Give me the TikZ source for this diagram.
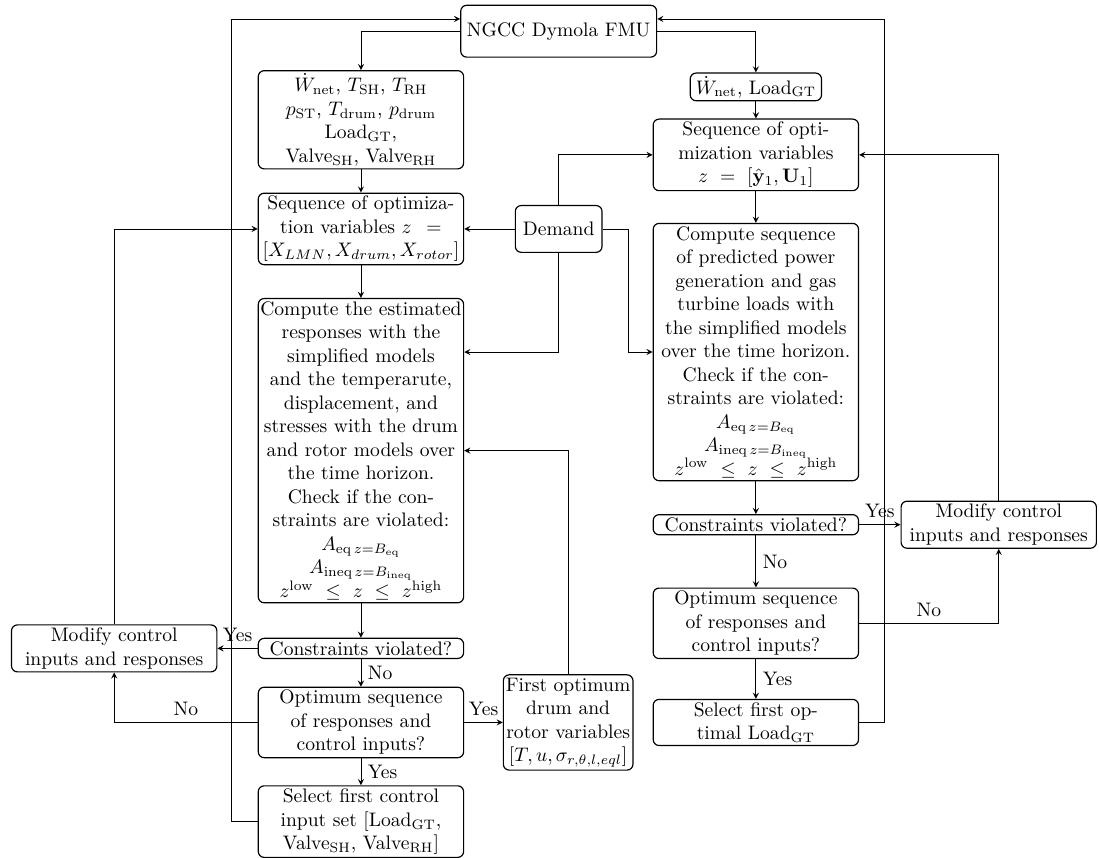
\documentclass[tikz,border=0pt]{standalone}
\usepackage{amsmath}
\usepackage{tikz}
\usetikzlibrary{shapes.geometric, arrows, positioning}
\tikzstyle{process} = [draw, line width=0.6pt, rounded corners=3pt, text width=3.63cm, align=center, inner xsep=0.8pt, inner ysep=1.5pt]
\tikzstyle{arrow} = [->,>=stealth]

\begin{document}
\begin{tikzpicture}[node distance=1cm]
        \useasboundingbox (0,0) rectangle (19.73,-15.40);
        \node[process, text width=3.46cm, minimum height=0.93cm] (ngcc) at (10.03,-0.56) {NGCC Dymola FMU};
        \node[process, below of=ngcc, xshift=-3.55cm, yshift=-0.59cm] (lin) {$\dot{W}_{\mathrm{net}}$, $T_{\mathrm{SH}}$, $T_{\mathrm{RH}}$\\ $p_{\mathrm{ST}}$, $T_{\mathrm{drum}}$, $p_{\mathrm{drum}}$\\ Load$_{\mathrm{GT}}$,\\ Valve$_{\mathrm{SH}}$, Valve$_{\mathrm{RH}}$};
        \node[process, text width=2.3cm, below of=ngcc, xshift=3.54cm] (rtop) {$\dot{W}_{\mathrm{net}}$, Load$_{\mathrm{GT}}$};
        \node[process, below of=lin, yshift=-0.96cm] (lseq) {Sequence of optimiza-\\ tion variables $z\ =$\\ $[X_{LMN}, X_{drum}, X_{rotor}]$};
        \node[process, text width=1.5cm, minimum height=0.84cm, right of=lseq, xshift=2.55cm] (dem) {Demand};
        \node[process, below of=rtop, yshift=-0.22cm] (rseq) {Sequence of opti-\\ mization variables\\ \mbox{$z\ =\ [\hat{\mathbf{y}}_1, \mathbf{U}_1]$}};
        \node[process, below of=rseq, yshift=-2.54cm] (rcomp) {Compute sequence\\ of predicted power\\ generation and gas\\ turbine loads with\\ the simplified models\\ over the time horizon.\\ Check if the con-\\ straints are violated:\\ $A_{\mathrm{eq}\,z=B_{\mathrm{eq}}}$\\ $A_{\mathrm{ineq}\,z=B_{\mathrm{ineq}}}$\\ \mbox{$z^{\mathrm{low}}\ \leq\ z\ \leq\ z^{\mathrm{high}}$}};
        \node[process, below of=lseq, yshift=-2.98cm] (lcomp) {Compute the estimated\\ responses with the\\ simplified models\\ and the temperarute,\\ displacement, and\\ stresses with the drum\\ and rotor models over\\ the time horizon.\\ Check if the con-\\ straints are violated:\\ $A_{\mathrm{eq}\,z=B_{\mathrm{eq}}}$\\ $A_{\mathrm{ineq}\,z=B_{\mathrm{ineq}}}$\\ \mbox{$z^{\mathrm{low}}\ \leq\ z\ \leq\ z^{\mathrm{high}}$}};
        \node[process, below of=rcomp, yshift=-2.10cm] (rcv) {Constraints violated?};
        \node[process, text width=3.45cm, right of=rcv, xshift=3.36cm] (rmod) {Modify control\\ inputs and responses};
        \node[process, below of=rcv, yshift=-0.77cm] (ropt) {Optimum sequence\\ of responses and\\ control inputs?};
        \node[process, below of=ropt, yshift=-0.78cm] (rsel) {Select first op-\\ timal Load$_{\mathrm{GT}}$};
        \node[process, below of=lcomp, yshift=-2.55cm] (lcv) {Constraints violated?};
        \node[process, left of=lcv, xshift=-3.43cm] (lmod) {Modify control\\ inputs and responses};
        \node[process, below of=lcv, yshift=-0.33cm] (lopt) {Optimum sequence\\ of responses and\\ control inputs?};
        \node[process, text width=2.27cm, right of=lopt, xshift=2.72cm] (first) {First optimum\\ drum and\\ rotor variables\\ $[T, u, \sigma_{r,\theta,l,eql}]$};
        \node[process, below of=lopt, yshift=-0.78cm] (lsel) {Select first control\\ input set [Load$_{\mathrm{GT}}$,\\ Valve$_{\mathrm{SH}}$, Valve$_{\mathrm{RH}}$]};
        \coordinate (ngccL) at ([yshift=0.22cm]ngcc.west);
        \coordinate (ngccR) at ([yshift=0.22cm]ngcc.east);
        \coordinate (loopL) at ([xshift=-0.47cm]lsel.west);
        \coordinate (loopR) at ([xshift=0.45cm]rsel.east);
        \coordinate (demR) at ([xshift=0.47cm]dem.east);
        \draw[arrow] (lin) edge (lseq)
        (rtop) edge (rseq)
        (dem) edge (lseq)
        (lseq) edge (lcomp)
        (rseq) edge (rcomp)
        (lcomp) edge (lcv)
        (rcomp) edge (rcv)
        (lcv) edge node[above]{Yes} (lmod)
        (rcv) edge node[above]{Yes} (rmod)
        (lcv) edge node[right]{No} (lopt)
        (rcv) edge node[right]{No} (ropt)
        (lopt) edge node[above]{Yes} (first)
        (lopt) edge node[right]{Yes} (lsel)
        (ropt) edge node[right]{Yes} (rsel);
        \draw[arrow] (ngcc.west) -| (lin.north);
        \draw[arrow] (ngcc.east) -| (rtop.north);
        \draw[arrow] (dem.north) |- (rseq.west);
        \draw[arrow] (dem.south) |- (lcomp.east |- rcomp.west);
        \draw[arrow] (dem.east) -- (demR) |- (rcomp.west);
        \draw[arrow] (first.north) |- (lcomp.east);
        \draw[arrow] (lmod.north) |- (lseq.west);
        \draw[arrow] (rmod.north) |- (rseq.east);
        \draw[arrow] (lopt.west) -| node[pos=0.25, above]{No} (lmod.south);
        \draw[arrow] (ropt.east) -| node[pos=0.25, above]{No} (rmod.south);
        \draw[arrow] (lsel.west) -- (loopL) |- (ngccL);
        \draw[arrow] (rsel.east) -- (loopR) |- (ngccR);
    \end{tikzpicture}
\end{document}
